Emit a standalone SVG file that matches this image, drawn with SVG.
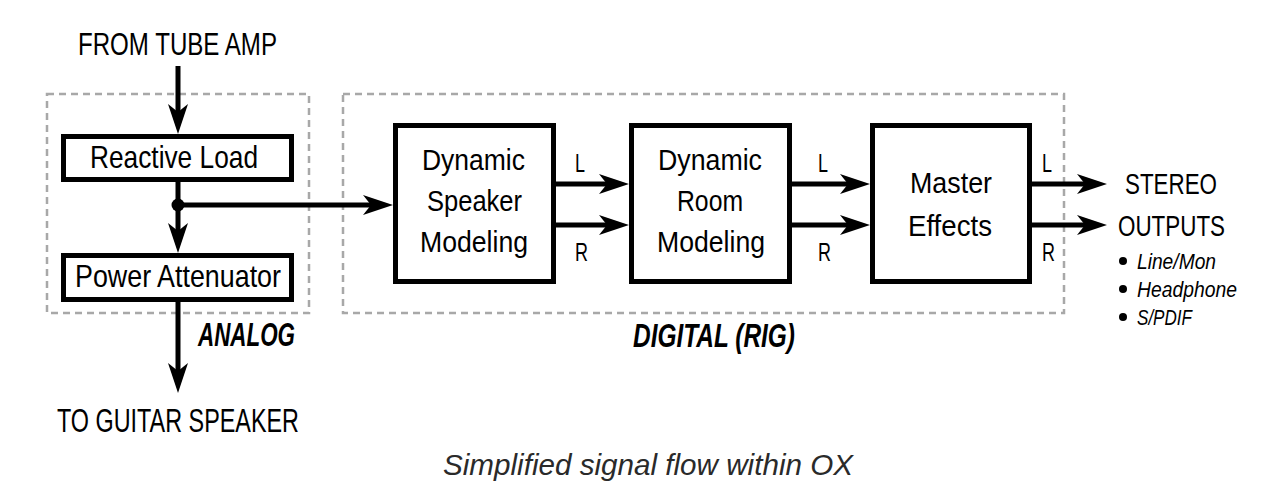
<svg xmlns="http://www.w3.org/2000/svg" width="1280" height="503" viewBox="0 0 1280 503">
  <style>
    text { font-family: "Liberation Sans", Arial, sans-serif; fill: #000; }
    .lbl { font-size: 32px; }
    .box-t { font-size: 29px; }
    .lr { font-size: 26px; }
    .zone { font-size: 33px; font-weight: bold; font-style: italic; }
    .bul { font-size: 22px; font-style: italic; }
    .cap { font-size: 30px; font-style: italic; fill: #2a2a2a; }
    .box { fill: #fff; stroke: #000; stroke-width: 5; }
    .dash { fill: none; stroke: #a8a8a8; stroke-width: 2.5; stroke-dasharray: 7 5; }
    .wire { fill: none; stroke: #000; stroke-width: 5; marker-end: url(#ah); }
  </style>
  <defs>
    <marker id="ah" markerUnits="userSpaceOnUse" markerWidth="32" markerHeight="22" refX="18" refY="11" orient="auto" overflow="visible">
      <path d="M30,11 L0,1 L8,11 L0,21 Z" fill="#000"/>
    </marker>
  </defs>
  <rect width="1280" height="503" fill="#fff"/>

  <g id="zones">
    <rect class="dash" x="47" y="94" width="262" height="219"/>
    <rect class="dash" x="343" y="94" width="721" height="219"/>
    <text class="zone" x="198" y="346" textLength="97" lengthAdjust="spacingAndGlyphs">ANALOG</text>
    <text class="zone" x="633" y="347" textLength="162" lengthAdjust="spacingAndGlyphs">DIGITAL (RIG)</text>
  </g>

  <g id="connectors">
    <path class="wire" d="M178,66 V122"/>
    <path class="wire" d="M178,182 V241"/>
    <path class="wire" d="M178,205 H381"/>
    <path class="wire" d="M178,302 V381"/>
    <path class="wire" d="M556,184 H617"/>
    <path class="wire" d="M556,225 H617"/>
    <path class="wire" d="M792,184 H858"/>
    <path class="wire" d="M792,225 H858"/>
    <path class="wire" d="M1032,184 H1095"/>
    <path class="wire" d="M1032,225 H1095"/>
    <circle cx="178" cy="205" r="6.5" fill="#000"/>
    <text class="lr" x="575" y="172" textLength="10" lengthAdjust="spacingAndGlyphs">L</text>
    <text class="lr" x="575" y="261" textLength="13" lengthAdjust="spacingAndGlyphs">R</text>
    <text class="lr" x="818" y="172" textLength="10" lengthAdjust="spacingAndGlyphs">L</text>
    <text class="lr" x="818" y="261" textLength="13" lengthAdjust="spacingAndGlyphs">R</text>
    <text class="lr" x="1042" y="172" textLength="10" lengthAdjust="spacingAndGlyphs">L</text>
    <text class="lr" x="1042" y="261" textLength="13" lengthAdjust="spacingAndGlyphs">R</text>
  </g>

  <g id="input">
    <text class="lbl" x="78" y="55" textLength="199" lengthAdjust="spacingAndGlyphs">FROM TUBE AMP</text>
  </g>

  <g id="reactive-load">
    <rect class="box" x="63.5" y="136.5" width="228" height="43"/>
    <text class="lbl" x="90" y="168" textLength="168" lengthAdjust="spacingAndGlyphs">Reactive Load</text>
  </g>

  <g id="power-attenuator">
    <rect class="box" x="63.5" y="255.5" width="228" height="44"/>
    <text class="lbl" x="75" y="287" textLength="206" lengthAdjust="spacingAndGlyphs">Power Attenuator</text>
  </g>

  <g id="guitar-speaker">
    <text class="lbl" x="57" y="432" style="font-size:33px" textLength="242" lengthAdjust="spacingAndGlyphs">TO GUITAR SPEAKER</text>
  </g>

  <g id="speaker-modeling">
    <rect class="box" x="395.5" y="125.5" width="158" height="156"/>
    <text class="box-t" x="422" y="170" textLength="103" lengthAdjust="spacingAndGlyphs">Dynamic</text>
    <text class="box-t" x="427" y="211" textLength="95" lengthAdjust="spacingAndGlyphs">Speaker</text>
    <text class="box-t" x="420" y="252" textLength="108" lengthAdjust="spacingAndGlyphs">Modeling</text>
  </g>

  <g id="room-modeling">
    <rect class="box" x="631.5" y="125.5" width="158" height="156"/>
    <text class="box-t" x="658" y="170" textLength="104" lengthAdjust="spacingAndGlyphs">Dynamic</text>
    <text class="box-t" x="677" y="211" textLength="66" lengthAdjust="spacingAndGlyphs">Room</text>
    <text class="box-t" x="657" y="252" textLength="108" lengthAdjust="spacingAndGlyphs">Modeling</text>
  </g>

  <g id="master-effects">
    <rect class="box" x="872.5" y="125.5" width="157" height="156"/>
    <text class="box-t" x="910" y="193" textLength="82" lengthAdjust="spacingAndGlyphs">Master</text>
    <text class="box-t" x="908" y="236" textLength="84" lengthAdjust="spacingAndGlyphs">Effects</text>
  </g>

  <g id="stereo-outputs">
    <text class="box-t" x="1125" y="194" textLength="92" lengthAdjust="spacingAndGlyphs">STEREO</text>
    <text class="box-t" x="1118" y="236" textLength="107" lengthAdjust="spacingAndGlyphs">OUTPUTS</text>
    <circle cx="1123" cy="261" r="4"/>
    <circle cx="1123" cy="289" r="4"/>
    <circle cx="1123" cy="317" r="4"/>
    <text class="bul" x="1137" y="269" textLength="79" lengthAdjust="spacingAndGlyphs">Line/Mon</text>
    <text class="bul" x="1137" y="297" textLength="100" lengthAdjust="spacingAndGlyphs">Headphone</text>
    <text class="bul" x="1137" y="325" textLength="55" lengthAdjust="spacingAndGlyphs">S/PDIF</text>
  </g>

  <g id="caption">
    <text class="cap" x="443" y="475" textLength="410" lengthAdjust="spacingAndGlyphs">Simplified signal flow within OX</text>
  </g>
</svg>
